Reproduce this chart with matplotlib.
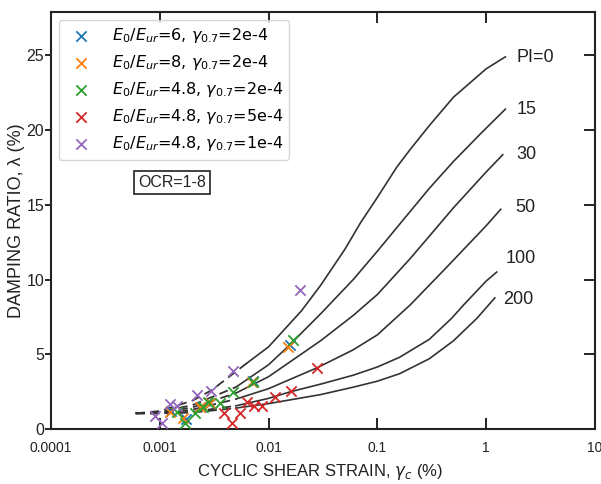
import matplotlib
matplotlib.use("Agg")
import matplotlib.pyplot as plt

# Vucetic-Dobry damping curves (strain %, damping %)
pi_labels = ["PI=0", "15", "30", "50", "100", "200"]
strain_pi0 = [0.0006, 0.001, 0.002, 0.003, 0.0063, 0.01, 0.02, 0.03, 0.05, 0.07, 0.1, 0.15, 0.2, 0.3, 0.5, 1.0, 1.5]
damp_pi0 = [1.05, 1.2, 1.9, 2.6, 4.4, 5.5, 7.9, 9.6, 12.0, 13.8, 15.5, 17.5, 18.7, 20.3, 22.2, 24.1, 24.9]
strain_pi15 = [0.0006, 0.001, 0.002, 0.005, 0.01, 0.015, 0.03, 0.06, 0.1, 0.16, 0.3, 0.5, 0.9, 1.5]
damp_pi15 = [1.05, 1.15, 1.6, 2.8, 4.3, 5.5, 7.7, 10.0, 11.9, 13.7, 16.1, 17.9, 19.8, 21.4]
strain_pi30 = [0.0006, 0.001, 0.002, 0.005, 0.01, 0.03, 0.06, 0.1, 0.2, 0.3, 0.5, 1.0, 1.42]
damp_pi30 = [1.05, 1.1, 1.45, 2.4, 3.5, 5.9, 7.6, 9.0, 11.4, 12.9, 14.8, 17.2, 18.35]
strain_pi50 = [0.0006, 0.001, 0.002, 0.005, 0.01, 0.028, 0.06, 0.1, 0.2, 0.43, 1.0, 1.36]
damp_pi50 = [1.05, 1.05, 1.3, 2.0, 2.7, 4.1, 5.3, 6.3, 8.3, 10.8, 13.6, 14.7]
strain_pi100 = [0.0006, 0.001, 0.002, 0.005, 0.01, 0.016, 0.03, 0.06, 0.1, 0.16, 0.3, 0.48, 0.62, 1.0, 1.25]
damp_pi100 = [1.05, 1.05, 1.15, 1.55, 2.05, 2.5, 3.0, 3.6, 4.15, 4.8, 6.0, 7.4, 8.3, 9.9, 10.5]
strain_pi200 = [0.0006, 0.001, 0.002, 0.005, 0.01, 0.03, 0.06, 0.1, 0.16, 0.3, 0.5, 0.82, 1.2]
damp_pi200 = [1.05, 1.05, 1.1, 1.4, 1.7, 2.3, 2.8, 3.2, 3.7, 4.7, 5.9, 7.4, 8.77]
dash_until = [0.0063, 0.005, 0.005, 0.005, 0.005, 0.005]
label_pos = [(2.81, 24.85), (2.37, 21.4), (2.32, 18.35), (2.27, 14.8), (2.09, 11.4), (1.96, 8.64)]

# model results
series_labels = [
    r"$E_0/E_{ur}$=6, $\gamma_{0.7}$=2e-4",
    r"$E_0/E_{ur}$=8, $\gamma_{0.7}$=2e-4",
    r"$E_0/E_{ur}$=4.8, $\gamma_{0.7}$=2e-4",
    r"$E_0/E_{ur}$=4.8, $\gamma_{0.7}$=5e-4",
    r"$E_0/E_{ur}$=4.8, $\gamma_{0.7}$=1e-4",
]
strain_blue = [0.00127, 0.00175, 0.0024, 0.0029, 0.0072, 0.0156]
damp_blue = [1.2, 0.7, 1.45, 1.75, 3.2, 5.6]
strain_orange = [0.00124, 0.00164, 0.00234, 0.00289, 0.0070, 0.0152]
damp_orange = [1.16, 0.72, 1.49, 1.72, 3.17, 5.51]
strain_green = [0.00143, 0.0017, 0.00211, 0.0025, 0.00279, 0.00357, 0.00474, 0.00722, 0.0169]
damp_green = [1.16, 0.38, 1.05, 1.5, 1.83, 1.72, 2.5, 3.17, 5.96]
strain_red = [0.00389, 0.00458, 0.00546, 0.0063, 0.0074, 0.00875, 0.01146, 0.016, 0.0277]
damp_red = [1.05, 0.42, 1.05, 1.83, 1.56, 1.56, 2.12, 2.57, 4.06]
strain_purple = [0.0009, 0.00104, 0.00124, 0.00143, 0.00218, 0.00294, 0.00468, 0.0195]
damp_purple = [0.85, 0.4, 1.65, 1.55, 2.3, 2.55, 3.9, 9.3]

x_ticks = [0.0001, 0.001, 0.01, 0.1, 1, 10]
x_ticklabels = ["0.0001", "0.001", "0.01", "0.1", "1", "10"]
y_ticks = [0, 5, 10, 15, 20, 25]

scan_font = ["Liberation Sans", "DejaVu Sans"]
ink = "#222222"

fig = plt.figure(figsize=(6.01, 4.84), dpi=100)
ax = fig.add_axes([51 / 601, 55 / 484, 544 / 601, 417 / 484])

curves = [(strain_pi0, damp_pi0), (strain_pi15, damp_pi15), (strain_pi30, damp_pi30),
          (strain_pi50, damp_pi50), (strain_pi100, damp_pi100), (strain_pi200, damp_pi200)]
for (xs, ys), split, lab, (lx, ly) in zip(curves, dash_until, pi_labels, label_pos):
    xd = [x for x in xs if x <= split]
    yd = ys[:len(xd)]
    ax.plot(xd, yd, color="#333333", lw=1.3, ls=(0, (5, 3)))
    ax.plot(xs[len(xd) - 1:], ys[len(xd) - 1:], color="#333333", lw=1.2)
    ax.text(lx, ly, lab, ha="center", va="center", fontsize=13, color=ink, family=scan_font)

scatter_data = [(strain_blue, damp_blue), (strain_orange, damp_orange), (strain_green, damp_green),
                (strain_red, damp_red), (strain_purple, damp_purple)]
for i, ((xs, ys), lab) in enumerate(zip(scatter_data, series_labels)):
    ax.scatter(xs, ys, marker="x", s=55, linewidths=1.3, color=f"C{i}", label=lab, zorder=3)

ax.text(0.00129, 16.5, "OCR=1-8", ha="center", va="center", fontsize=11.5, color=ink,
        family=scan_font, bbox=dict(boxstyle="square,pad=0.25", fc="white", ec=ink, lw=1.2))

ax.set_xscale("log")
ax.set_xlim(1e-4, 10)
ax.set_ylim(0, 27.9)
ax.set_xticks(x_ticks)
ax.set_xticklabels(x_ticklabels, family=scan_font, fontsize=10, color=ink)
ax.xaxis.set_minor_locator(matplotlib.ticker.NullLocator())
ax.set_yticks(y_ticks)
ax.set_yticklabels([str(v) for v in y_ticks], family=scan_font, fontsize=11.5, color=ink)
ax.tick_params(axis="x", direction="in", top=True, length=8, width=1.2, pad=9)
ax.tick_params(axis="y", direction="out", length=4, width=1.2, pad=1)
sec = ax.secondary_yaxis("right")
sec.set_yticks(y_ticks)
sec.tick_params(direction="in", length=8, width=1.2, labelright=False)
sec.spines["right"].set_visible(False)
for s in ax.spines.values():
    s.set_linewidth(1.5)
    s.set_color(ink)

ax.set_xlabel("CYCLIC SHEAR STRAIN, $\\gamma_c$ (%)", family=scan_font, fontsize=12, color=ink)
ax.xaxis.set_label_coords(0.495, -0.08)
ax.set_ylabel("DAMPING RATIO, λ (%)", family=scan_font, fontsize=13, color=ink)
ax.yaxis.set_label_coords(-0.047, 0.5)

ax.legend(loc="upper left", fontsize=11.5, labelspacing=0.5, handletextpad=0.9,
          borderpad=0.4, scatterpoints=1)

fig.savefig("out.png", dpi=100)
